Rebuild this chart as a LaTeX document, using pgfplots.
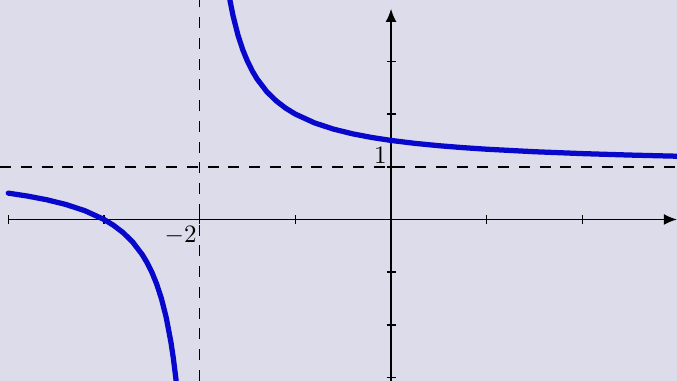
\documentclass[border=0pt]{standalone}
\usepackage{pgfplots}
\pgfplotsset{compat=1.18}
\usetikzlibrary{arrows.meta}
\definecolor{bg}{RGB}{220,220,235}
\definecolor{curve}{RGB}{8,8,204}
\begin{document}
\begin{tikzpicture}
\begin{axis}[
  scale only axis,
  width=270.8pt, height=152.4pt,
  xmin=-4.087, xmax=2.989,
  ymin=-3.065, ymax=4.165,
  hide axis,
  clip mode=global,
]
\fill[bg] (rel axis cs:0,0) rectangle (rel axis cs:1,1);
% asymptotes
\draw[black, line width=0.6pt, dash pattern=on 4.4pt off 3.9pt] (axis cs:-2,-3.065) -- (axis cs:-2,4.165);
\draw[black, line width=0.6pt, dash pattern=on 4.4pt off 3.9pt] (axis cs:-4.087,1) -- (axis cs:2.989,1);
% axes
\draw[black, line width=0.75pt, -{Latex[length=5.3pt,width=4.4pt]}] (axis cs:-4,0) -- (axis cs:2.99,0);
\draw[black, line width=0.75pt, -{Latex[length=5.3pt,width=4.4pt]}] (axis cs:0,-3.065) -- (axis cs:0,4.0);
% ticks
\draw[black, line width=0.6pt] (axis cs:-4,-0.085) -- (axis cs:-4,0.085);
\draw[black, line width=0.6pt] (axis cs:-3,-0.085) -- (axis cs:-3,0.085);
\draw[black, line width=0.6pt] (axis cs:-2,-0.085) -- (axis cs:-2,0.085);
\draw[black, line width=0.6pt] (axis cs:-1,-0.085) -- (axis cs:-1,0.085);
\draw[black, line width=0.6pt] (axis cs:1,-0.085) -- (axis cs:1,0.085);
\draw[black, line width=0.6pt] (axis cs:2,-0.085) -- (axis cs:2,0.085);
\draw[black, line width=0.6pt] (axis cs:-0.047,-3) -- (axis cs:0.047,-3);
\draw[black, line width=0.6pt] (axis cs:-0.047,-2) -- (axis cs:0.047,-2);
\draw[black, line width=0.6pt] (axis cs:-0.047,-1) -- (axis cs:0.047,-1);
\draw[black, line width=0.6pt] (axis cs:-0.047,1) -- (axis cs:0.047,1);
\draw[black, line width=0.6pt] (axis cs:-0.047,2) -- (axis cs:0.047,2);
\draw[black, line width=0.6pt] (axis cs:-0.047,3) -- (axis cs:0.047,3);
% labels
\node[anchor=north east, inner sep=1pt, yshift=-1.6pt] at (axis cs:-2,0) {$-2$};
\node[anchor=south east, inner sep=1pt, xshift=-0.6pt] at (axis cs:0,1) {$1$};
% curve branches
\addplot[curve, line width=2.1pt, line join=round, line cap=round] coordinates {
(-4,0.5) (-3.8,0.4444) (-3.6,0.375) (-3.4,0.2857) (-3.2,0.1667) (-3.0,0)
(-2.9,-0.1111) (-2.8,-0.25) (-2.7,-0.4286) (-2.6,-0.6667) (-2.55,-0.8182) (-2.5,-1)
(-2.45,-1.2222) (-2.4,-1.5) (-2.35,-1.8571) (-2.3,-2.3333) (-2.275,-2.6364) (-2.25,-3) (-2.24,-3.1667)
};
\addplot[curve, line width=2.1pt, line join=round] coordinates {
(-1.7,4.3333) (-1.68,4.125) (-1.65,3.8571) (-1.6,3.5) (-1.55,3.2222) (-1.5,3)
(-1.45,2.8182) (-1.4,2.6667) (-1.3,2.4286) (-1.2,2.25) (-1.1,2.1111) (-1.0,2)
(-0.8,1.8333) (-0.6,1.7143) (-0.4,1.625) (-0.2,1.5556) (0,1.5)
(0.25,1.4444) (0.5,1.4) (0.75,1.3636) (1.0,1.3333) (1.5,1.2857)
(2.0,1.25) (2.5,1.2222) (3.0,1.2)
};
\end{axis}
\end{tikzpicture}
\end{document}
